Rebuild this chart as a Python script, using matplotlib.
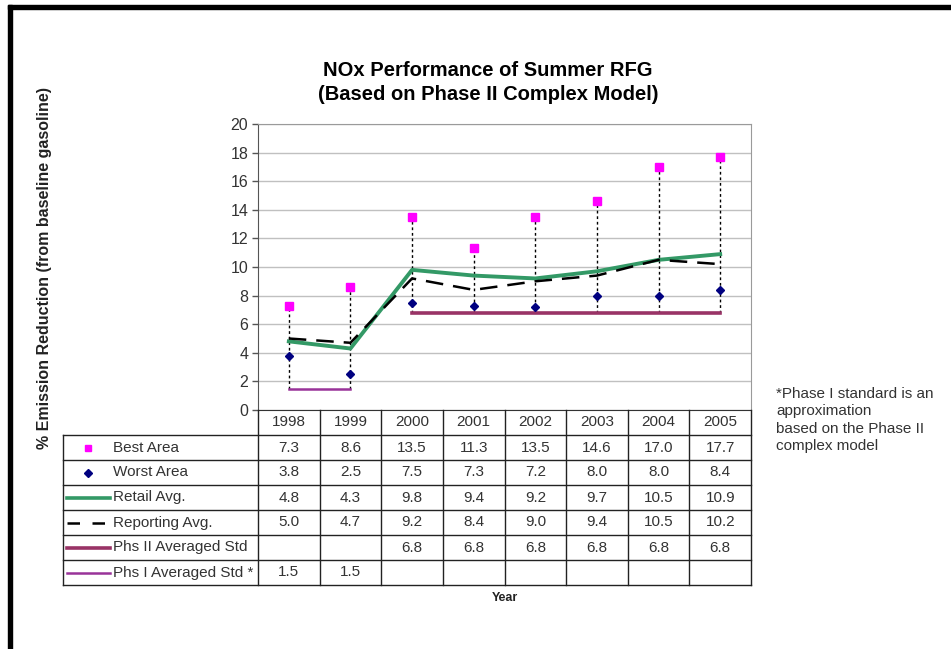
import numpy as np
import matplotlib
matplotlib.use("Agg")
import matplotlib.pyplot as plt
from matplotlib.patches import Rectangle

plt.rcParams['font.family'] = ['Liberation Sans', 'DejaVu Sans']

# ---- data ----
years = ['1998', '1999', '2000', '2001', '2002', '2003', '2004', '2005']
best_area = [7.3, 8.6, 13.5, 11.3, 13.5, 14.6, 17.0, 17.7]
worst_area = [3.8, 2.5, 7.5, 7.3, 7.2, 8.0, 8.0, 8.4]
retail_avg = [4.8, 4.3, 9.8, 9.4, 9.2, 9.7, 10.5, 10.9]
reporting_avg = [5.0, 4.7, 9.2, 8.4, 9.0, 9.4, 10.5, 10.2]
phs2_std = [None, None, 6.8, 6.8, 6.8, 6.8, 6.8, 6.8]
phs1_std = [1.5, 1.5, None, None, None, None, None, None]

row_labels = ['Best Area', 'Worst Area', 'Retail Avg.', 'Reporting Avg.',
              'Phs II Averaged Std', 'Phs I Averaged Std *']
rows = [best_area, worst_area, retail_avg, reporting_avg, phs2_std, phs1_std]

W, H = 951, 649
fig = plt.figure(figsize=(W / 100, H / 100), dpi=100)
fig.patch.set_facecolor('white')

def box(x0, y0, x1, y1):
    # pixel box -> figure fraction rect
    return [x0 / W, 1 - y1 / H, (x1 - x0) / W, (y1 - y0) / H]

x = np.arange(len(years))

def arr(v):
    return np.array([np.nan if a is None else a for a in v], dtype=float)

# ---- main plot ----
ax = fig.add_axes(box(258, 124, 751, 410))
ax.set_xlim(-0.5, len(years) - 0.5)
ax.set_ylim(0, 20)
ax.set_yticks(np.arange(0, 21, 2))
ax.set_xticks([])
ax.yaxis.grid(True, color='#c0c0c0', lw=1)
ax.set_axisbelow(True)
for s in ['top', 'right']:
    ax.spines[s].set_color('#9a9a9a')
ax.spines['left'].set_color('#555555')
ax.spines['bottom'].set_color('#333333')
ax.tick_params(axis='y', length=4, width=1, color='#555555', labelsize=11.5,
               labelcolor='#333333', pad=3)

colors = {'best': '#ff00ff', 'worst': '#000080', 'retail': '#339966',
          'report': '#000000', 'phs2': '#993366', 'phs1': '#993399'}

# high-low lines
allv = np.vstack([arr(r) for r in rows])
hi = np.nanmax(allv, axis=0)
lo = np.nanmin(allv, axis=0)
ax.vlines(x, lo, hi, colors='black', linestyles=(0, (2, 2)), lw=1, zorder=2)

ax.plot(x, arr(phs2_std), color=colors['phs2'], lw=2.6, zorder=3)
ax.plot(x, arr(phs1_std), color=colors['phs1'], lw=1.8, zorder=3)
ax.plot(x, retail_avg, color=colors['retail'], lw=2.8, zorder=4)
ax.plot(x, reporting_avg, color='black', lw=1.8, dashes=(7, 4), zorder=5)
ax.plot(x, best_area, ls='none', marker='s', ms=5.5, color=colors['best'], zorder=6)
ax.plot(x, worst_area, ls='none', marker='D', ms=4.5, color=colors['worst'], zorder=6)

# ---- data table ----
tab = fig.add_axes(box(63, 410, 751, 585))
upp = (751 - 258) / len(years)          # pixels per category
xl = -0.5 - (258 - 63) / upp
tab.set_xlim(xl, len(years) - 0.5)
nrows = len(rows) + 1
tab.set_ylim(nrows, 0)
tab.axis('off')
lc = '#222222'
for k in range(len(years) + 1):
    tab.plot([k - 0.5, k - 0.5], [0, nrows], color=lc, lw=1, clip_on=False)
tab.plot([xl, xl], [1, nrows], color=lc, lw=1, clip_on=False)
for r in range(1, nrows + 1):
    tab.plot([xl, len(years) - 0.5], [r, r], color=lc, lw=1, clip_on=False)

tfs = 11
for i, yr in enumerate(years):
    tab.text(i, 0.5, yr, ha='center', va='center', fontsize=tfs, color='#333333')
for r, (lab, vals) in enumerate(zip(row_labels, rows), start=1):
    yc = r + 0.5
    for i, v in enumerate(vals):
        if v is not None:
            tab.text(i, yc, f'{v:.1f}', ha='center', va='center', fontsize=tfs,
                     color='#333333')
    tab.text(xl + 50 / upp, yc, lab, ha='left', va='center', fontsize=tfs,
             color='#333333')

kx = xl + 25 / upp
ka, kb = xl + 4 / upp, xl + 47 / upp
tab.plot(kx, 1.5, marker='s', ms=5, color=colors['best'], ls='none')
tab.plot(kx, 2.5, marker='D', ms=4, color=colors['worst'], ls='none')
tab.plot([ka, kb], [3.5, 3.5], color=colors['retail'], lw=2.6)
tab.plot([ka, kb], [4.5, 4.5], color='black', lw=1.8, dashes=(5, 5))
tab.plot([ka, kb], [5.5, 5.5], color=colors['phs2'], lw=2.6)
tab.plot([ka, kb], [6.5, 6.5], color=colors['phs1'], lw=1.8)

# ---- texts ----
fig.text(488 / W, 1 - 70 / H, 'NOx Performance of Summer RFG', ha='center',
         va='center', fontsize=14.5, fontweight='bold')
fig.text(488 / W, 1 - 95 / H, '(Based on Phase II Complex Model)', ha='center',
         va='center', fontsize=14.5, fontweight='bold')
fig.text(45 / W, 1 - 268 / H, '% Emission Reduction (from baseline gasoline)',
         rotation=90, ha='center', va='center', fontsize=11.5, fontweight='bold',
         color='#222222')
fig.text(505 / W, 1 - 598 / H, 'Year', ha='center', va='center', fontsize=9,
         fontweight='bold', color='#222222')
fig.text(776 / W, 1 - 420 / H,
         '*Phase I standard is an\napproximation\nbased on the Phase II\ncomplex model',
         ha='left', va='center', fontsize=11, color='#333333', linespacing=1.3)

# black frame on top and left
fig.add_artist(Rectangle((8 / W, 1 - 9 / H), (W - 8) / W, 4 / H,
                         transform=fig.transFigure, color='black'))
fig.add_artist(Rectangle((8 / W, 0), 4 / W, 1 - 5 / H,
                         transform=fig.transFigure, color='black'))

fig.savefig('out.png', dpi=100)
